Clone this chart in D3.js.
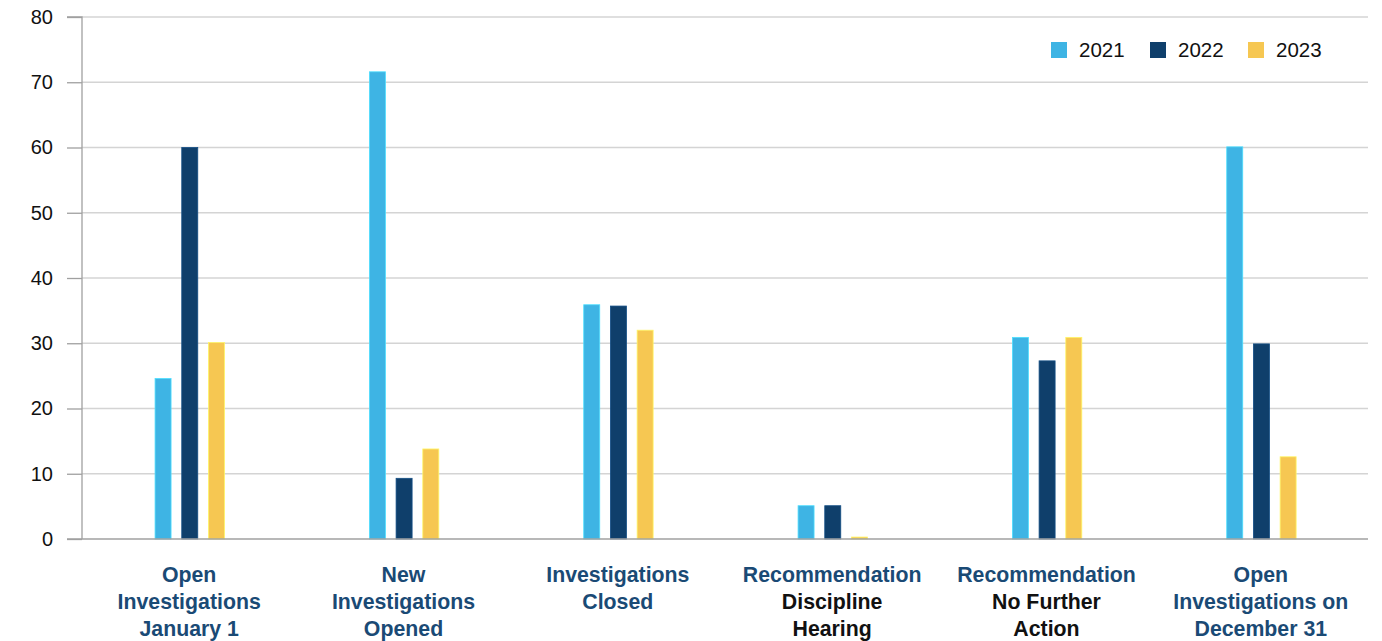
<!DOCTYPE html>
<html>
<head>
<meta charset="utf-8">
<script src="https://cdn.jsdelivr.net/npm/d3@7"></script>
<style>
  body { margin: 0; background: #fff; }
  svg { display: block; font-family: "Liberation Sans", Arial, sans-serif; }
</style>
</head>
<body>
<svg id="chart" width="1382" height="641"></svg>
<script>
const categories = [
  "Open Investigations January 1",
  "New Investigations Opened",
  "Investigations Closed",
  "Recommendation Discipline Hearing",
  "Recommendation No Further Action",
  "Open Investigations on December 31"
];
// label lines: [text, isBlue]
const labelLines = [
  [["Open", true], ["Investigations", true], ["January 1", true]],
  [["New", true], ["Investigations", true], ["Opened", true]],
  [["Investigations", true], ["Closed", true]],
  [["Recommendation", true], ["Discipline", false], ["Hearing", false]],
  [["Recommendation", true], ["No Further", false], ["Action", false]],
  [["Open", true], ["Investigations on", true], ["December 31", true]]
];
const seriesNames = ["2021", "2022", "2023"];
const values2021 = [24.6, 71.6, 35.9, 5.1, 30.9, 60.1];
const values2022 = [60.0, 9.3, 35.7, 5.1, 27.3, 29.9];
const values2023 = [30.1, 13.8, 32.0, 0.3, 30.9, 12.6];
const yTicks = [0, 10, 20, 30, 40, 50, 60, 70, 80];
const colors = ["#3eb4e4", "#0f3f6b", "#f6c752"];

const series = [values2021, values2022, values2023];
const svg = d3.select("#chart");
const m = { left: 82, right: 1368, top: 17, bottom: 539 };

const x = d3.scaleBand().domain(categories).range([m.left, m.right]);
const y = d3.scaleLinear().domain([0, 80]).range([m.bottom, m.top]);

// gridlines
svg.append("g").selectAll("line").data(yTicks.filter(d => d > 0)).join("line")
  .attr("x1", m.left).attr("x2", m.right)
  .attr("y1", d => y(d)).attr("y2", d => y(d))
  .attr("stroke", "#d4d4d4").attr("stroke-width", 1.3);

// y axis
const yAxis = d3.axisLeft(y).tickValues(yTicks).tickSize(15).tickPadding(14);
const gy = svg.append("g").attr("transform", `translate(${m.left},0)`).call(yAxis);
gy.select(".domain").attr("stroke", "#a0a0a0").attr("stroke-width", 1.3).attr("d", `M-15,${m.top}H0V${m.bottom}`);
gy.selectAll(".tick line").attr("stroke", "#a0a0a0").attr("stroke-width", 1.3);
gy.selectAll(".tick text").attr("font-size", 20).attr("fill", "#111")
  .attr("font-family", "Liberation Sans, Arial, sans-serif");

// bars
const barW = 16, step = 26.7;
seriesNames.forEach((s, si) => {
  svg.append("g").selectAll("rect").data(categories).join("rect")
    .attr("x", c => x(c) + x.bandwidth() / 2 - barW / 2 + (si - 1) * step + 0.6)
    .attr("y", (c, i) => y(series[si][i]))
    .attr("width", barW)
    .attr("height", (c, i) => y(0) - y(series[si][i]))
    .attr("fill", colors[si])
    .attr("stroke", d3.color(colors[si]).brighter(0.6))
    .attr("stroke-width", 0.8);
});

// baseline
svg.append("line").attr("x1", m.left - 15).attr("x2", m.right)
  .attr("y1", m.bottom).attr("y2", m.bottom)
  .attr("stroke", "#a0a0a0").attr("stroke-width", 1.5);

// category labels
categories.forEach((c, i) => {
  const t = svg.append("text")
    .attr("x", x(c) + x.bandwidth() / 2)
    .attr("text-anchor", "middle")
    .attr("font-size", 21.3).attr("font-weight", "bold");
  labelLines[i].forEach((ln, li) => {
    t.append("tspan").attr("x", x(c) + x.bandwidth() / 2)
      .attr("y", 582 + li * 27)
      .attr("fill", ln[1] ? "#1a4a75" : "#111")
      .text(ln[0]);
  });
});

// legend
const legX = [1051, 1150, 1248];
seriesNames.forEach((s, i) => {
  svg.append("rect").attr("x", legX[i]).attr("y", 42).attr("width", 16).attr("height", 16).attr("fill", colors[i]);
  svg.append("text").attr("x", legX[i] + 28).attr("y", 57).attr("font-size", 20.5).attr("fill", "#111").text(s);
});
</script>
</body>
</html>
